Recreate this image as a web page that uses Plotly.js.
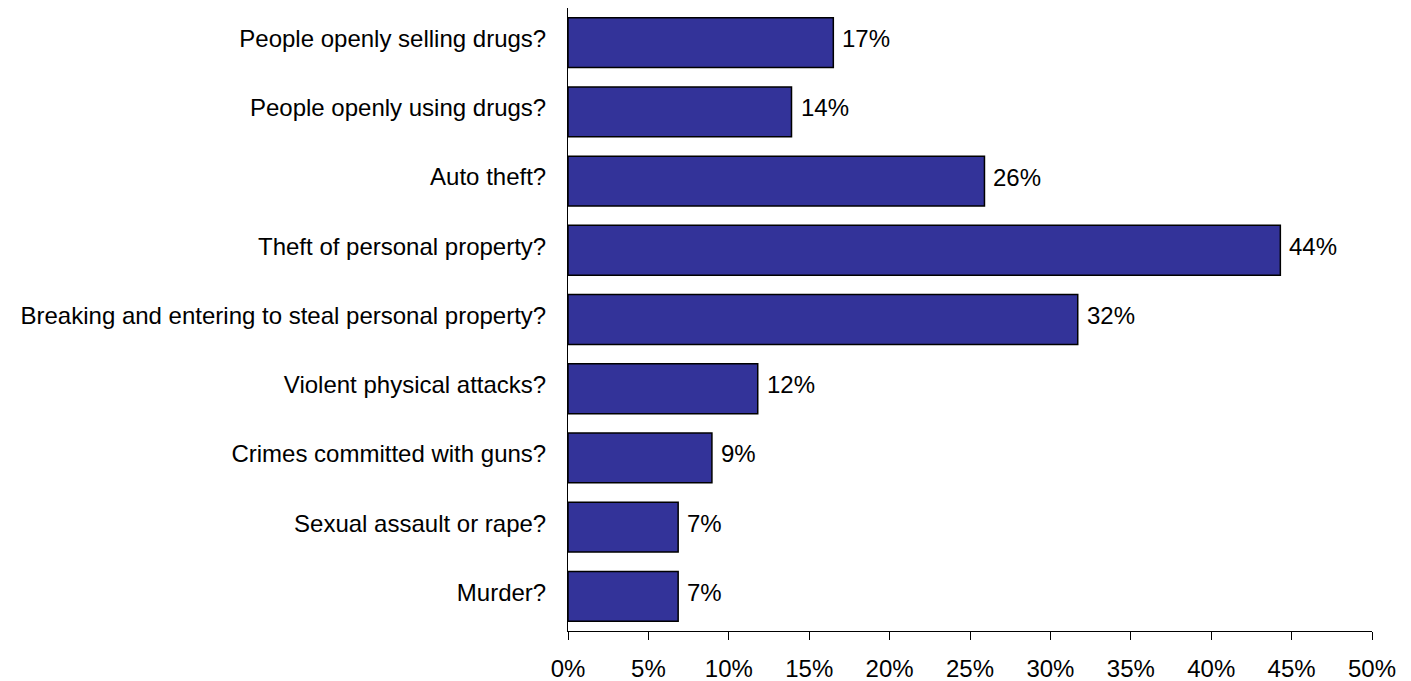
<!DOCTYPE html>
<html>
<head>
<meta charset="utf-8">
<script src="https://cdn.plot.ly/plotly-3.0.1.min.js"></script>
<style>html,body{margin:0;padding:0;background:#fff;}#chart{width:1411px;height:681px;}</style>
</head>
<body>
<div id="chart"></div>
<script>
const categories = [
  "People openly selling drugs?",
  "People openly using drugs?",
  "Auto theft?",
  "Theft of personal property?",
  "Breaking and entering to steal personal property?",
  "Violent physical attacks?",
  "Crimes committed with guns?",
  "Sexual assault or rape?",
  "Murder?"
];
const values = [16.5, 13.9, 25.9, 44.3, 31.7, 11.8, 8.95, 6.85, 6.85];
const valueLabels = ["17%", "14%", "26%", "44%", "32%", "12%", "9%", "7%", "7%"];
const tickValues = [0, 5, 10, 15, 20, 25, 30, 35, 40, 45, 50];
const tickLabels = ["0%", "5%", "10%", "15%", "20%", "25%", "30%", "35%", "40%", "45%", "50%"];

const font = "'Liberation Sans Narrow', 'Arial Narrow', 'Liberation Sans', Arial, sans-serif";

const trace = {
  type: 'bar',
  orientation: 'h',
  y: categories,
  x: values,
  marker: {color: '#333399', line: {color: '#000', width: 1.5}},
  hoverinfo: 'none'
};

const annotations = categories.map((c, i) => ({
  x: values[i],
  y: c,
  xref: 'x',
  yref: 'y',
  text: valueLabels[i],
  showarrow: false,
  xanchor: 'left',
  yanchor: 'middle',
  xshift: 7,
  yshift: 4,
  font: {family: font, size: 24, color: '#000'}
}));

const layout = {
  width: 1411,
  height: 681,
  margin: {l: 568, r: 39, t: 8, b: 50},
  paper_bgcolor: '#fff',
  plot_bgcolor: '#fff',
  bargap: 0.28,
  showlegend: false,
  font: {family: font, size: 24, color: '#000'},
  annotations: annotations,
  xaxis: {
    range: [0, 50],
    tickvals: tickValues,
    ticktext: tickLabels,
    ticks: 'outside',
    ticklen: 8,
    tickcolor: '#000',
    tickwidth: 1,
    showline: true,
    linecolor: '#000',
    linewidth: 1,
    showgrid: false,
    zeroline: false,
    fixedrange: true,
    ticklabelstandoff: 8,
    tickfont: {family: font, size: 24, color: '#000'}
  },
  yaxis: {
    autorange: 'reversed',
    type: 'category',
    showline: true,
    linecolor: '#000',
    linewidth: 1,
    ticks: '',
    showgrid: false,
    zeroline: false,
    ticklabelstandoff: 16,
    ticklabelshift: 4,
    tickfont: {family: font, size: 24, color: '#000'}
  }
};

Plotly.newPlot('chart', [trace], layout, {displayModeBar: false, staticPlot: true});
</script>
</body>
</html>
